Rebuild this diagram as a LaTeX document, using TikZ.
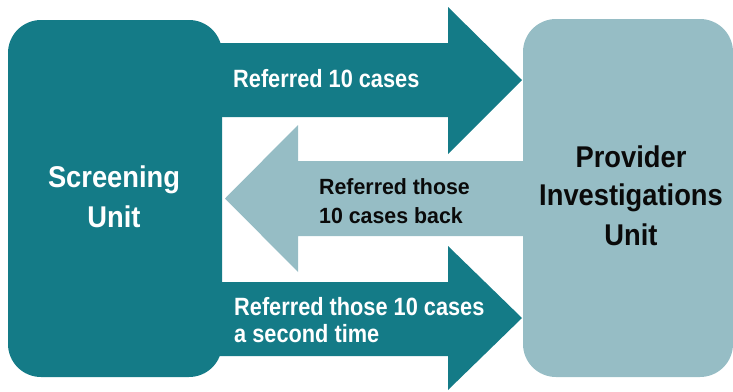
\documentclass[tikz,border=0pt]{standalone}
\usepackage{fontspec}
\newfontfamily\fa[FakeStretch=0.87]{Liberation Sans}
\newfontfamily\fb[FakeStretch=0.97]{Liberation Sans}
\newfontfamily\fc[FakeStretch=0.91]{Liberation Sans}
\definecolor{darkteal}{RGB}{20,123,135}
\definecolor{lightteal}{RGB}{150,189,197}
\definecolor{txtdark}{RGB}{10,10,10}
\tikzset{
  unitbox/.style={inner sep=0pt, rounded corners=33pt, minimum width=#1},
  arrowlbl/.style={inner sep=0pt, anchor=base west, font=\fa\bfseries\fontsize{25}{30}\selectfont, text=white},
  backlbl/.style={inner sep=0pt, anchor=base west, font=\fb\bfseries\fontsize{22}{26}\selectfont, text=txtdark},
  unitlbl/.style={inner sep=0pt, anchor=base, font=\fc\bfseries\fontsize{30}{36}\selectfont}
}
\begin{document}
\begin{tikzpicture}[x=1pt,y=-1pt]
\useasboundingbox (0,0) rectangle (733,391);
% boxes
\node[unitbox=214pt, minimum height=357pt, fill=darkteal] (su) at (115,198.5) {};
\node[unitbox=210pt, minimum height=358pt, fill=lightteal] (pi) at (628,198) {};
% arrows
\fill[darkteal] (200,43) -- (448,43) -- (448,7) -- (522,80) -- (448,154) -- (448,117) -- (200,117) -- cycle;
\fill[lightteal] (540,161) -- (298,161) -- (298,125) -- (225,198.5) -- (298,272) -- (298,236) -- (540,236) -- cycle;
\fill[darkteal] (200,282) -- (448,282) -- (448,246) -- (522,318) -- (448,390) -- (448,356) -- (200,356) -- cycle;
% unit labels
\node[unitlbl, text=white] (su1) at (114,187) {Screening};
\node[unitlbl, text=white] (su2) at (114,227) {Unit};
\node[unitlbl, text=txtdark] (pi1) at (631,167) {Provider};
\node[unitlbl, text=txtdark] (pi2) at (631,205) {Investigations};
\node[unitlbl, text=txtdark] (pi3) at (631,245) {Unit};
% arrow labels
\node[arrowlbl] (a1) at (233,87) {Referred 10 cases};
\node[backlbl] (b1) at (319,194) {Referred those};
\node[backlbl] (b2) at (319,223) {10 cases back};
\node[arrowlbl] (c1) at (234,315) {Referred those 10 cases};
\node[arrowlbl] (c2) at (234,342) {a second time};
\end{tikzpicture}
\end{document}
